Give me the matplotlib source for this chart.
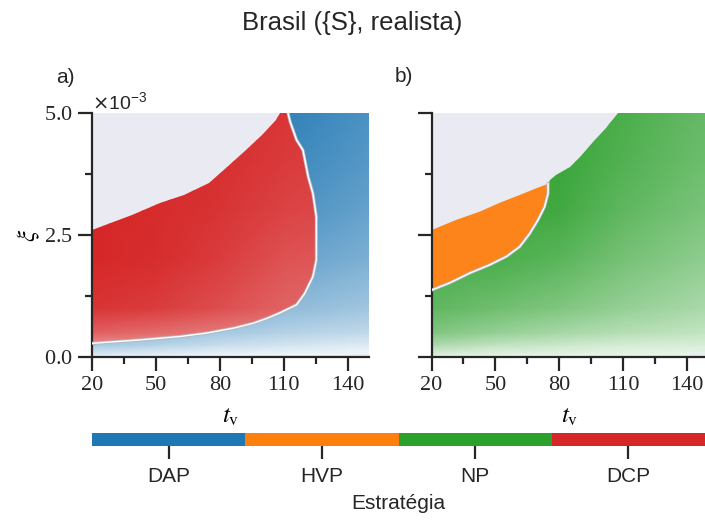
import numpy as np
import matplotlib
matplotlib.use('Agg')
import matplotlib.pyplot as plt
from matplotlib.colors import LinearSegmentedColormap, ListedColormap, BoundaryNorm
from matplotlib.patches import Polygon
from matplotlib.cm import ScalarMappable
from matplotlib.ticker import ScalarFormatter, FixedLocator

# strategy colours and names
strategies = ['DAP', 'HVP', 'NP', 'DCP']
colors = ['#1f77b4', '#ff7f0e', '#2ca02c', '#d62728']
bg = '#eaeaf2'

# panel a) boundaries, t_v and xi (x 1e-3)
dcp_top_tv = [20, 39, 52, 63, 75, 83, 92.5, 100, 106.5, 108, 112]
dcp_top_xi = [2.60, 2.91, 3.16, 3.32, 3.56, 3.87, 4.24, 4.55, 4.86, 5.0, 5.0]
dcp_right_tv = [112, 113, 116, 119, 121.5, 123.7, 125.3, 125.3, 123.7, 119.8, 116, 108, 102]
dcp_right_xi = [5.0, 4.82, 4.45, 4.24, 3.69, 3.35, 2.87, 1.99, 1.65, 1.30, 1.07, 0.90, 0.79]
dcp_bottom_tv = [102, 95.6, 86.3, 73.8, 61.3, 42.5, 20]
dcp_bottom_xi = [0.79, 0.69, 0.59, 0.49, 0.42, 0.35, 0.28]

# panel b) boundaries
hvp_top_tv = [20, 31.6, 42.7, 52, 61.4, 69.3, 74.7]
hvp_top_xi = [2.60, 2.81, 2.98, 3.16, 3.32, 3.46, 3.55]
hvp_np_tv = [74.7, 74.7, 73.1, 70, 66.1, 61.4, 55.2, 47.4, 38, 28.6, 20]
hvp_np_xi = [3.55, 3.35, 3.08, 2.81, 2.53, 2.26, 2.06, 1.89, 1.72, 1.52, 1.37]
np_top_tv = [107.6, 102, 95.9, 89.7, 85, 78.5, 75.4, 74.7]
np_top_xi = [5.0, 4.69, 4.41, 4.10, 3.90, 3.73, 3.63, 3.55]

# thin empty strips along xi = 0
strip_tv = [94, 141, 150]
strip_xi = [0.035, 0.065]

# colour intensity read at grid nodes
tv_nodes = [20, 50, 80, 110, 150]
xi_nodes = [0, 0.25, 0.5, 1.0, 2.0, 3.0, 4.0, 5.0]
dcp_int = [[0.45, 0.45, 0.42, 0.40, 0.35],
           [0.52, 0.50, 0.46, 0.42, 0.38],
           [0.74, 0.68, 0.62, 0.55, 0.50],
           [0.94, 0.90, 0.82, 0.72, 0.65],
           [1.00, 0.97, 0.90, 0.80, 0.75],
           [1.00, 0.98, 0.94, 0.87, 0.82],
           [1.00, 1.00, 0.96, 0.91, 0.87],
           [1.00, 1.00, 0.98, 0.93, 0.90]]
dap_int = [[0.10, 0.08, 0.06, 0.05, 0.05],
           [0.40, 0.33, 0.25, 0.20, 0.15],
           [0.60, 0.50, 0.40, 0.33, 0.28],
           [0.75, 0.70, 0.60, 0.50, 0.42],
           [0.90, 0.85, 0.78, 0.68, 0.58],
           [0.95, 0.92, 0.88, 0.80, 0.68],
           [1.00, 0.97, 0.93, 0.87, 0.75],
           [1.00, 1.00, 0.97, 0.92, 0.80]]
np_int = [[0.12, 0.10, 0.10, 0.10, 0.10],
          [0.40, 0.30, 0.25, 0.20, 0.18],
          [0.60, 0.50, 0.42, 0.35, 0.28],
          [0.75, 0.68, 0.60, 0.50, 0.40],
          [0.85, 0.85, 0.78, 0.65, 0.52],
          [0.90, 0.92, 0.90, 0.75, 0.62],
          [0.95, 0.95, 0.93, 0.82, 0.68],
          [1.00, 1.00, 0.95, 0.85, 0.72]]
hvp_int = 0.95

plt.rcParams['font.family'] = 'Liberation Sans'
W, H = 705, 521
fig = plt.figure(figsize=(W / 100, H / 100), dpi=100)
ax_a = fig.add_axes([92 / W, 1 - 357 / H, 277 / W, 244 / H])
ax_b = fig.add_axes([431.5 / W, 1 - 357 / H, 277 / W, 244 / H])

X, Y = np.meshgrid(tv_nodes, np.array(xi_nodes) * 1e-3)


def pts(tv, xi):
    return list(zip(tv, np.array(xi) * 1e-3))


def shade(ax, verts, inten, color):
    cmap = LinearSegmentedColormap.from_list('c', ['white', color])
    m = ax.pcolormesh(X, Y, np.array(inten), shading='gouraud', cmap=cmap,
                      vmin=0, vmax=1, zorder=1)
    m.set_clip_path(Polygon(verts, closed=True, transform=ax.transData))


def edge(ax, tv, xi):
    ax.plot(tv, np.array(xi) * 1e-3, color='#b8b8c0', lw=2.2, zorder=3,
            solid_joinstyle='miter')
    ax.plot(tv, np.array(xi) * 1e-3, color='white', lw=1.0, zorder=4)


def strips(ax):
    ax.fill_between(strip_tv, [strip_xi[0] * 1e-3, strip_xi[1] * 1e-3, strip_xi[1] * 1e-3],
                    step='post', color=bg, lw=0, zorder=2)


# panel a
dcp_poly = pts(dcp_top_tv, dcp_top_xi) + pts(dcp_right_tv, dcp_right_xi) + pts(dcp_bottom_tv, dcp_bottom_xi)
dap_poly = [(20, 0), (150, 0), (150, 5e-3)] + pts(dcp_right_tv, dcp_right_xi) + pts(dcp_bottom_tv, dcp_bottom_xi)
shade(ax_a, dap_poly, dap_int, colors[0])
shade(ax_a, dcp_poly, dcp_int, colors[3])
edge(ax_a, dcp_right_tv + dcp_bottom_tv, dcp_right_xi + dcp_bottom_xi)
strips(ax_a)

# panel b
hvp_poly = pts(hvp_top_tv, hvp_top_xi) + pts(hvp_np_tv, hvp_np_xi)
np_poly = [(20, 0), (150, 0), (150, 5e-3)] + pts(np_top_tv, np_top_xi) + pts(hvp_np_tv, hvp_np_xi)
shade(ax_b, np_poly, np_int, colors[2])
ax_b.add_patch(Polygon(hvp_poly, closed=True, facecolor=colors[1], alpha=hvp_int, lw=0, zorder=2))
edge(ax_b, hvp_np_tv, hvp_np_xi)
strips(ax_b)

for ax in (ax_a, ax_b):
    ax.set_facecolor(bg)
    ax.set_xlim(20, 150)
    ax.set_ylim(0, 5e-3)
    for s in ('top', 'right'):
        ax.spines[s].set_visible(False)
    for s in ('left', 'bottom'):
        ax.spines[s].set_linewidth(1.6)
        ax.spines[s].set_color('#262626')
    ax.xaxis.set_major_locator(FixedLocator([20, 50, 80, 110, 140]))
    ax.xaxis.set_minor_locator(FixedLocator([35, 65, 95, 125]))
    ax.yaxis.set_major_locator(FixedLocator([0, 2.5e-3, 5e-3]))
    ax.yaxis.set_minor_locator(FixedLocator([1.25e-3, 3.75e-3]))
    fmt = ScalarFormatter(useMathText=True)
    fmt.set_powerlimits((-2, 2))
    ax.yaxis.set_major_formatter(fmt)
    ax.tick_params(which='major', length=10, width=1.6, color='#262626',
                   labelsize=16, labelcolor='#262626', labelfontfamily='Liberation Serif', pad=4)
    ax.tick_params(which='minor', length=5, width=1.6, color='#262626')
    ax.set_xlabel(r'$t_{\mathrm{v}}$', fontsize=18, math_fontfamily='stix', labelpad=6)

ax_a.yaxis.get_offset_text().set_fontsize(14)
ax_a.set_ylabel(r'$\xi$', fontsize=18, math_fontfamily='stix', labelpad=1)
ax_b.tick_params(axis='y', labelleft=False)
ax_b.yaxis.get_offset_text().set_visible(False)

fig.text(0.5, 1 - 23 / H, 'Brasil ({S}, realista)', ha='center', va='center', fontsize=18.5, color='#262626')
fig.text(65 / W, 1 - 78 / H, 'a)', ha='center', va='center', fontsize=15, color='#262626')
fig.text(404 / W, 1 - 76 / H, 'b)', ha='center', va='center', fontsize=15, color='#262626')

# strategy colour bar
cax = fig.add_axes([92 / W, 1 - 446 / H, 1 - 92 / W, 13 / H])
cmap = ListedColormap(colors)
norm = BoundaryNorm([-0.5, 0.5, 1.5, 2.5, 3.5], cmap.N)
cb = fig.colorbar(ScalarMappable(norm=norm, cmap=cmap), cax=cax, orientation='horizontal')
cb.set_ticks(range(len(strategies)))
cb.set_ticklabels(strategies)
cb.outline.set_visible(False)
cax.minorticks_off()
cax.tick_params(which='major', direction='out', bottom=True, length=9, width=1.6,
                color='#262626', labelsize=15, labelcolor='#262626', pad=6)
cb.set_label('Estratégia', fontsize=15, color='#262626', labelpad=6)

fig.savefig('out.png', dpi=100)
